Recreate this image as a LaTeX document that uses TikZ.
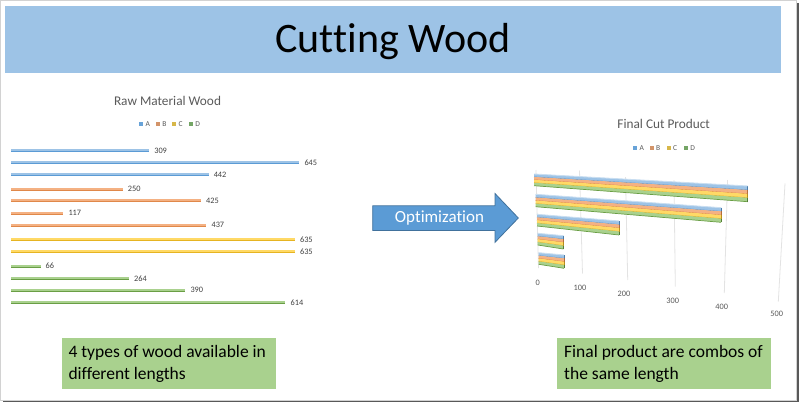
\documentclass[tikz,border=0pt]{standalone}
\usepackage{fontspec}
\setmainfont{Carlito}[Ligatures=NoCommon]
\definecolor{titleblue}{HTML}{9DC3E6}
\definecolor{arrowblue}{HTML}{5B9BD5}
\definecolor{arrowdark}{HTML}{41719C}
\definecolor{boxgreen}{HTML}{A9D18E}
\definecolor{txtgray}{HTML}{595959}
\definecolor{labgray}{HTML}{404040}
\definecolor{barA}{HTML}{9DC3E6}
\definecolor{barB}{HTML}{F4B183}
\definecolor{barC}{HTML}{FFD966}
\definecolor{barD}{HTML}{A9D18E}
\definecolor{midA}{HTML}{5B9BD5}
\definecolor{midB}{HTML}{E0884A}
\definecolor{midC}{HTML}{E6B422}
\definecolor{midD}{HTML}{6A9E45}
\newcommand\cutgroup[6]{%
  \foreach \k/\cc in {0/A,1/B,2/C,3/D}{
    \pgfmathsetmacro\ya{#2+\k*(#3-#2)/4}
    \pgfmathsetmacro\yb{#2+(\k+1)*(#3-#2)/4}
    \pgfmathsetmacro\yc{#5+\k*(#6-#5)/4}
    \pgfmathsetmacro\yd{#5+(\k+1)*(#6-#5)/4}
    \fill[bar\cc] (#1,\ya) -- (#4,\yc) -- (#4,\yd) -- (#1,\yb) -- cycle;
    \draw[mid\cc, line width=0.7] (#1,\yb) -- (#4,\yd);
    \draw[mid\cc!80!black, line width=1] (#4,\yc) -- (#4,\yd);
  }
  \draw[barA!55!white, line width=0.9] (#1,#2) -- (#4,#5);
}
\tikzset{
  charttitle/.style={anchor=base, text=txtgray, font=\fontsize{13.3}{16}\selectfont},
  legtext/.style={anchor=west, text=txtgray, inner sep=0, font=\fontsize{7.5}{8}\selectfont},
  vallabel/.style={anchor=west, text=labgray, inner sep=0, font=\fontsize{8.3}{10}\selectfont},
  axislabel/.style={text=txtgray, inner sep=0, font=\fontsize{8.3}{10}\selectfont},
  gridline/.style={gray!22, line width=0.8},
  notebox/.style={fill=boxgreen, inner sep=0, minimum width=214, minimum height=51.7, anchor=north west},
  notetext/.style={anchor=base west, inner sep=0, font=\fontsize{17.5}{22}\selectfont},
}
\begin{document}
\begin{tikzpicture}[x=1pt,y=-1pt]
\useasboundingbox (0,0) rectangle (800,405);
% frame with shadow
\draw[gray!35, line width=0.8] (0.5,0.5) rectangle (796,400);
\draw[gray!70!black, line width=1.6] (3,401.6) -- (797.9,401.6) -- (797.9,3);

% title bar
\node[fill=titleblue, inner sep=0, minimum width=776, minimum height=66.7, anchor=north west] (titlebar) at (5,6) {};
\node[anchor=base, inner sep=0, font=\fontsize{42}{50}\selectfont] (titletext) at (393,52) {Cutting Wood};

% ---------- left chart ----------
\node[charttitle] (lefttitle) at (167.5,105) {Raw Material Wood};
\foreach \dx/\cc in {0/A,16.7/B,33/C,49.7/D}{
  \fill[mid\cc!80!barA] (139.3+\dx,121.7) rectangle ++(4,4);
  \node[legtext] (lleg\cc) at (145.5+\dx,123.7) {\cc};
}
\foreach \v/\y/\cc [count=\i] in {309/150.7/A,645/162.3/A,442/174.7/A,250/189/B,425/200.7/B,117/213/B,437/225/B,635/239.7/C,635/251.7/C,66/266/D,264/278.7/D,390/290.3/D,614/302.3/D}{
  \pgfmathsetmacro\e{11+\v*0.447}
  \draw[bar\cc, line width=2.6] (11,\y) -- (\e,\y);
  \draw[mid\cc, line width=0.7] (11,\y+1.1) -- (\e,\y+1.1);
  \node[vallabel] (lab\i) at (\e+5,\y) {\v};
}

% ---------- arrow ----------
\draw[fill=arrowblue, draw=arrowdark, line width=0.8]
  (372.7,205.8) -- (495,205.8) -- (495,193.5) -- (518.3,218) -- (495,242.3) -- (495,230.4) -- (372.7,230.4) -- cycle;
\node[anchor=base, inner sep=0, text=white, font=\fontsize{17}{20}\selectfont] (opt) at (439.5,222.5) {Optimization};

% ---------- right chart ----------
\node[charttitle] (righttitle) at (663.7,128.3) {Final Cut Product};
\foreach \dx/\cc in {0/A,16.3/B,33.4/C,50.7/D}{
  \fill[mid\cc!80!barA] (633.3+\dx,146.3) rectangle ++(4,4);
  \node[legtext] (rleg\cc) at (639.5+\dx,148.3) {\cc};
}
% gridlines
\draw[gridline] (536,170) -- (538.5,268);
\draw[gridline] (579.5,170.5) -- (582.5,273.5);
\draw[gridline] (625.5,177) -- (627.7,280);
\draw[gridline] (674,180) -- (675.3,286.7);
\draw[gridline] (727.5,180) -- (724.3,293);
\draw[gridline] (785,183.3) -- (778.3,301.7);
% axis labels
\node[axislabel] (ax0) at (537.7,282.7) {0};
\node[axislabel] (ax100) at (580,288.3) {100};
\node[axislabel] (ax200) at (624,294) {200};
\node[axislabel] (ax300) at (672.7,300.7) {300};
\node[axislabel] (ax400) at (721.7,307.3) {400};
\node[axislabel] (ax500) at (776.7,314) {500};
% bar groups
\cutgroup{534}{174}{185.7}{747.7}{186}{201.7}
\cutgroup{535.7}{194.3}{206.7}{721}{207.7}{222.3}
\cutgroup{537}{214.3}{226}{619}{221}{235}
\cutgroup{537.7}{233.3}{245}{563.3}{235.7}{249}
\cutgroup{538.7}{252.7}{264.3}{564}{255}{268.3}

% ---------- note boxes ----------
\node[notebox] (leftbox) at (61.7,337.3) {};
\node[notetext] (lefttext1) at (68.3,357.3) {4 types of wood available in};
\node[notetext] (lefttext2) at (68.3,379.3) {different lengths};
\node[notebox] (rightbox) at (556.7,337.3) {};
\node[notetext] (righttext1) at (564,357.3) {Final product are combos of};
\node[notetext] (righttext2) at (564,379.3) {the same length};
\end{tikzpicture}
\end{document}
